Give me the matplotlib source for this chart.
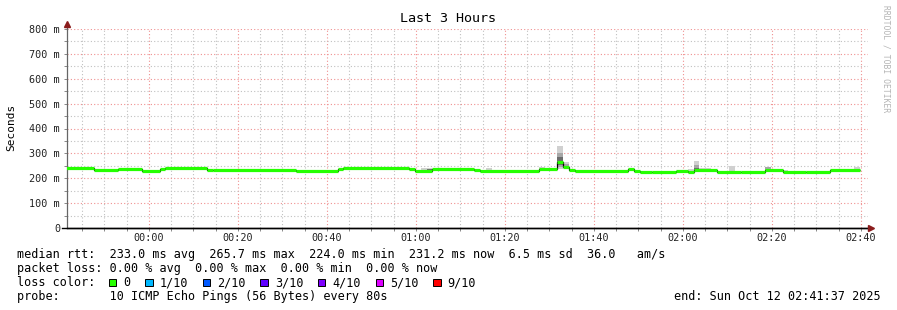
import matplotlib
matplotlib.use('Agg')

import numpy as np
import matplotlib.pyplot as plt
from matplotlib.lines import Line2D
from matplotlib.patches import Rectangle

W, H = 897, 310
MONO = 'DejaVu Sans Mono'

# time axis in minutes from 00:00, window 23:41:37 -> 02:41:37
t_start = -(18 + 23 / 60)
t_end = 161 + 37 / 60
step_min = 80 / 60          # one probe every 80 s
step_offset = -0.4          # first step starts 0.4 step before the window

# median rtt as runs: number of 80 s steps, value in ms
seg_steps = [5, 4, 4, 3, 1, 7, 1, 14, 7, 1, 11, 1, 3, 7, 1, 10, 3, 1, 1, 1,
             9, 1, 1, 2, 4, 2, 1, 4, 4, 4, 3, 4, 4, 5]
seg_rtt = [242, 232, 236, 231, 236, 240, 233, 232, 228, 238, 243, 236, 231,
           238, 232, 228, 237, 265, 247, 232, 228, 238, 230, 224, 227, 231,
           227, 232, 225, 226, 233, 226, 224, 232]

# smoke (ping spread) at a few steps: step index, low, high (ms), shade
smoke_step = [60, 61, 61, 71, 80, 83, 83, 83, 84, 84, 105, 106, 106, 106,
              107, 108, 112, 118, 119, 121, 133]
smoke_lo = [231, 231, 234, 228, 236, 236, 245, 255, 240, 242, 229, 232, 232,
            232, 232, 232, 225, 233, 233, 226, 232]
smoke_hi = [241, 241, 238, 240, 247, 328, 300, 285, 265, 257, 237, 270, 255,
            240, 241, 240, 250, 247, 238, 233, 245]
smoke_shade = ['light', 'light', 'dark', 'light', 'light', 'light', 'mid',
               'dark', 'light', 'mid', 'light', 'light', 'mid', 'dark',
               'light', 'light', 'light', 'mid', 'light', 'light', 'light']
shade_colors = {'light': '#d0d0d0', 'mid': '#a6a6a6', 'dark': '#6c6c6c'}

tick_minutes = list(range(0, 161, 20))
tick_labels = ['00:00', '00:20', '00:40', '01:00', '01:20', '01:40',
               '02:00', '02:20', '02:40']
ytick_values = [0, 0.1, 0.2, 0.3, 0.4, 0.5, 0.6, 0.7, 0.8]
ytick_labels = ['0', '100 m', '200 m', '300 m', '400 m', '500 m', '600 m',
                '700 m', '800 m']

legend_lines = [
    'median rtt:  233.0 ms avg  265.7 ms max  224.0 ms min  231.2 ms now  6.5 ms sd  36.0   am/s',
    'packet loss: 0.00 % avg  0.00 % max  0.00 % min  0.00 % now',
    'loss color:',
    'probe:       10 ICMP Echo Pings (56 Bytes) every 80s',
]
loss_labels = ['0', '1/10', '2/10', '3/10', '4/10', '5/10', '9/10']
loss_colors = ['#26ff00', '#00b8ff', '#0059ff', '#5e00ff', '#7e00ff',
               '#dd00ff', '#ff0000']
end_text = 'end: Sun Oct 12 02:41:37 2025'

fig = plt.figure(figsize=(W / 100, H / 100), dpi=100)
fig.patch.set_facecolor('white')

# plot area in pixels: x 67..868, y 29..228
px_l, px_r, px_t, px_b = 67, 868, 29, 228
ax = fig.add_axes([px_l / W, 1 - px_b / H, (px_r - px_l) / W, (px_b - px_t) / H])
ax.set_xlim(t_start, t_end)
ax.set_ylim(0, 0.8)

# dotted grid
dot = (0, (1, 2))
ax.set_xticks(tick_minutes)
ax.set_xticks(np.arange(-15, 161, 5), minor=True)
ax.set_yticks(ytick_values)
ax.set_yticks(np.arange(0.05, 0.8, 0.1), minor=True)
ax.grid(which='minor', color='#c0c0c0', ls=dot, lw=0.8)
ax.grid(which='major', color='#f09090', ls=dot, lw=0.8)
ax.set_axisbelow(True)

ax.set_xticklabels(tick_labels, fontfamily=MONO, fontsize=7.3, color='#222222')
ax.set_yticklabels(ytick_labels, fontfamily=MONO, fontsize=7.3, color='#222222')
ax.tick_params(which='both', length=2, width=0.7, color='#888888')
ax.tick_params(axis='x', pad=1.5)
ax.tick_params(axis='y', pad=3)

for side in ['top', 'right']:
    ax.spines[side].set_visible(False)
ax.spines['left'].set_color('#666666')
ax.spines['bottom'].set_color('black')
ax.spines['left'].set_linewidth(0.9)
ax.spines['bottom'].set_linewidth(1.0)

# step edges in minutes
edges = [t_start + step_offset * step_min]
for n in seg_steps:
    edges.append(edges[-1] + n * step_min)
edges = np.array(edges)
rtt_s = np.array(seg_rtt) / 1000.0

# smoke
for k, lo, hi, shade in zip(smoke_step, smoke_lo, smoke_hi, smoke_shade):
    x0 = t_start + (k + step_offset) * step_min
    ax.bar(x0, (hi - lo) / 1000.0, bottom=lo / 1000.0, width=step_min,
           align='edge', color=shade_colors[shade], lw=0, zorder=2)

# median line: thin black steps and thick loss-coloured segments
ax.stairs(rtt_s, edges, baseline=None, color='black', lw=0.9, zorder=3)
ax.hlines(rtt_s, edges[:-1], edges[1:], colors=loss_colors[0], lw=2.3, zorder=4)

# axis extensions and arrows
arrow_col = '#8b1c1c'
fig.add_artist(Line2D([px_l / W, px_l / W], [1 - px_t / H, 1 - 24 / H],
                      color='#666666', lw=0.9))
fig.add_artist(Line2D([px_l / W], [1 - 23.5 / H], marker='^', ms=4,
                      color=arrow_col, lw=0))
fig.add_artist(Line2D([62 / W, 870 / W], [1 - px_b / H, 1 - px_b / H],
                      color='black', lw=1.0))
fig.add_artist(Line2D([871 / W], [1 - px_b / H], marker='>', ms=4,
                      color=arrow_col, lw=0))

# titles
fig.text(448 / W, 1 - 19 / H, 'Last 3 Hours', fontfamily=MONO, fontsize=9.6,
         ha='center', va='center')
fig.text(11 / W, 1 - 127 / H, 'Seconds', fontfamily=MONO, fontsize=8,
         rotation=90, ha='center', va='center')
fig.text(886 / W, 1 - 59 / H, 'RRDTOOL / TOBI OETIKER', fontfamily=MONO,
         fontsize=5.8, rotation=-90, ha='center', va='center', color='#b4b4b4')

# legend block
cw = 7.11
x0 = 16.5
line_y = [254.5, 268.5, 282.5, 296.5]
for txt, y in zip(legend_lines, line_y):
    fig.text(x0 / W, 1 - y / H, txt, fontfamily=MONO, fontsize=8.5,
             ha='left', va='center')

col = 13
for lab, c in zip(loss_labels, loss_colors):
    bx = x0 + col * cw
    fig.add_artist(Rectangle((bx / W, 1 - 286 / H), 7.5 / W, 7.5 / H,
                             facecolor=c, edgecolor='black', lw=0.7))
    fig.text((bx + 14.3) / W, 1 - line_y[2] / H, lab, fontfamily=MONO,
             fontsize=8.5, ha='left', va='center')
    col += len(lab) + 4.1

fig.text(880.5 / W, 1 - line_y[3] / H, end_text, fontfamily=MONO, fontsize=8.5,
         ha='right', va='center')

fig.savefig('out.png', dpi=100)
